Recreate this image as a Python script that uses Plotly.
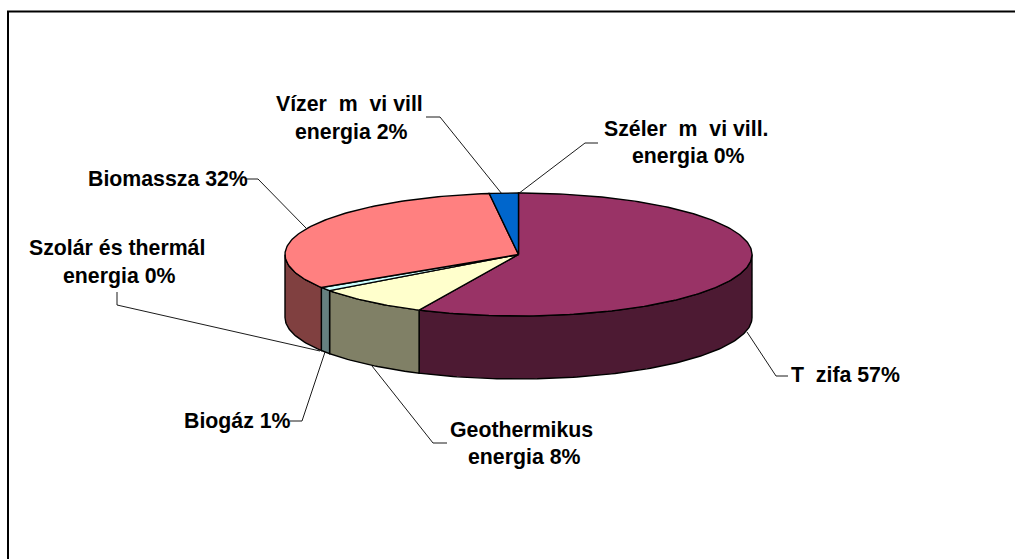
import math
import plotly.graph_objects as go

# ---- data (clockwise from 12 o'clock) ----
categories = ["Tűzifa", "Geothermikus energia", "Biogáz", "Szolár és thermál energia",
              "Biomassza", "Vízerőművi vill energia", "Széleröművi vill. energia"]
values = [57, 8, 1, 0, 32, 2, 0]
top_colors = ["#993366", "#FFFFCC", "#CCFFFF", "#660066", "#FF8080", "#0066CC", "#CCCCFF"]
side_colors = ["#4D1A33", "#808066", "#668080", "#330033", "#804040", "#003366", "#666680"]

label_lines = [
    ("Vízer\u00a0\u00a0m\u00a0\u00a0vi\u00a0vill", 349, 105),
    ("energia 2%", 351, 133),
    ("Biomassza 32%", 168, 180),
    ("Széler\u00a0\u00a0m\u00a0\u00a0vi\u00a0vill.", 686, 130),
    ("energia 0%", 688, 157),
    ("Szolár és thermál", 117, 249),
    ("energia 0%", 119, 277),
    ("Biogáz 1%", 237, 422),
    ("Geothermikus", 521, 431),
    ("energia 8%", 524, 458),
    ("T\u00a0\u00a0zifa 57%", 845, 376),
]

leaders = [
    [(426, 117), (440, 117), (502, 194)],
    [(246, 179), (258, 179), (306, 228)],
    [(598, 143), (585, 143), (518, 194)],
    [(788, 376), (776, 376), (747, 332)],
    [(447, 443), (433, 443), (372, 366)],
    [(290, 421), (302, 421), (325, 352)],
    [(117, 292), (117, 305), (320, 351)],
]

# ---- geometry of the tilted pie, in pixel units of the hidden axes ----
CX, CY, RX, RY, DEPTH = 518.5, 254.5, 233.5, 61.5, 63
EDGE = dict(color="#000000", width=1.4)


def rim(a_deg, dy=0.0):
    a = math.radians(a_deg)
    return CX + RX * math.sin(a), CY - RY * math.cos(a) + dy


def arc(a0, a1, dy=0.0):
    n = max(2, int(abs(a1 - a0)) + 2)
    return [rim(a0 + (a1 - a0) * i / (n - 1), dy) for i in range(n)]


fig = go.Figure()


def add_poly(pts, color, name):
    fig.add_trace(go.Scatter(
        x=[p[0] for p in pts], y=[p[1] for p in pts], mode="lines", fill="toself",
        fillcolor=color, line=EDGE, name=name, hoverinfo="name", showlegend=False))


# leaders go beneath the pie
shapes = [dict(type="path", layer="below",
               path="M " + " L ".join(f"{x},{y}" for x, y in pts),
               line=dict(color="#000000", width=0.9))
          for pts in leaders]

# cumulative angles
total = sum(values)
angles = []
acc = 0.0
for v in values:
    angles.append((acc / total * 360, (acc + v) / total * 360))
    acc += v

# front walls: only the part between 90 and 270 degrees faces the viewer
for (a0, a1), name, col, v in zip(angles, categories, side_colors, values):
    s0, s1 = max(a0, 90), min(a1, 270)
    if v > 0 and s1 > s0:
        add_poly(arc(s0, s1) + arc(s1, s0, DEPTH) + [rim(s0)], col, name)

# top faces
for (a0, a1), name, col, v in zip(angles, categories, top_colors, values):
    if v > 0:
        add_poly([(CX, CY)] + arc(a0, a1) + [(CX, CY)], col, name)

annotations = [dict(x=x, y=y, xref="x", yref="y", text=t, showarrow=False, yshift=1,
                    xanchor="center", yanchor="middle",
                    font=dict(family="Liberation Sans", size=21.3, color="#000000", weight="bold"))
               for t, x, y in label_lines]

# frame: cut off by the page on the right and at the bottom
shapes.append(dict(type="path", path="M 8,575 L 8,11.5 L 1030,11.5",
                   line=dict(color="#000000", width=2)))

fig.update_layout(
    width=1015, height=559, autosize=False,
    margin=dict(l=0, r=0, t=0, b=0),
    paper_bgcolor="#FFFFFF", plot_bgcolor="rgba(0,0,0,0)",
    xaxis=dict(range=[0, 1015], visible=False, fixedrange=True),
    yaxis=dict(range=[559, 0], visible=False, fixedrange=True),
    shapes=shapes, annotations=annotations, showlegend=False,
)

fig.write_html("out.html", config={"displayModeBar": False, "responsive": False},
               post_script="document.body.style.margin='0';document.documentElement.style.overflow='hidden';")
